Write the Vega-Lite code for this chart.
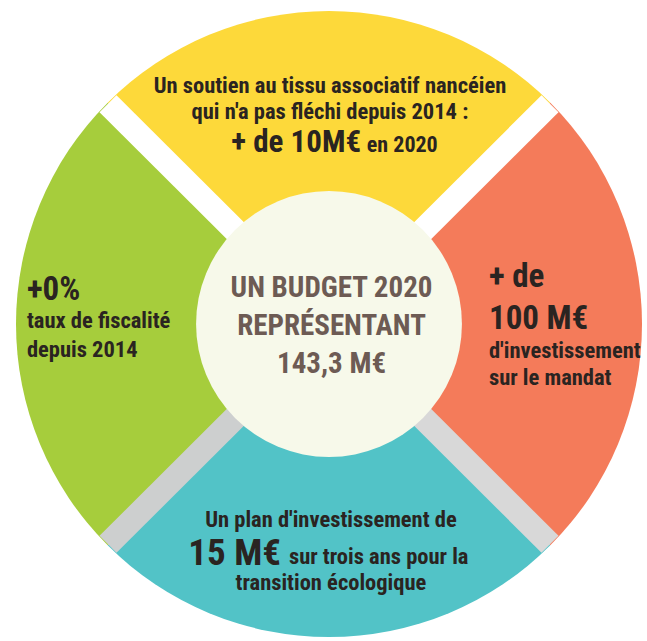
{
  "$schema": "https://vega.github.io/schema/vega-lite/v6.json",
  "width": 636,
  "height": 634,
  "padding": {"left": 11, "top": 7, "right": 0, "bottom": 0},
  "autosize": {"type": "none"},
  "background": "white",
  "config": {"view": {"stroke": null}, "text": {"font": "Roboto Condensed, Roboto, sans-serif", "fontWeight": "bold", "baseline": "alphabetic", "color": "#2A2421"}},
  "datasets": {
    "sectors": [
      {"sector": "Vie associative", "share": 1, "k": 1},
      {"sector": "Investissement", "share": 1, "k": 2},
      {"sector": "Transition écologique", "share": 1, "k": 3},
      {"sector": "Fiscalité", "share": 1, "k": 4}
    ],
    "bands": [
      {"side": "haut gauche", "ox": 0, "oy": 0, "ex": -69.5, "ey": 69.5},
      {"side": "haut droite", "ox": 0, "oy": 0, "ex": 69.5, "ey": 69.5},
      {"side": "bas droite", "ox": 0, "oy": 0, "ex": 69.5, "ey": -69.5},
      {"side": "bas gauche", "ox": 0, "oy": 0, "ex": -69.5, "ey": -69.5}
    ],
    "hub": [{"zone": "centre", "cx": 0, "cy": 0}],
    "labels": [
      {"text": "Un soutien au tissu associatif nancéien", "x": 0.3, "y": 72.9, "role": "texte", "anchor": "centre"},
      {"text": "qui n'a pas fléchi depuis 2014 :", "x": 0.3, "y": 64.6, "role": "texte", "anchor": "centre"},
      {"text": "+ de 10M€", "x": 10.1, "y": 54.3, "role": "chiffre moyen", "anchor": "droite"},
      {"text": "en 2020", "x": 11.9, "y": 54.3, "role": "petit", "anchor": "gauche"},
      {"text": "+0%", "x": -95.0, "y": 7.6, "role": "chiffre", "anchor": "gauche"},
      {"text": "taux de fiscalité", "x": -95.0, "y": -1.3, "role": "texte", "anchor": "gauche"},
      {"text": "depuis 2014", "x": -95.0, "y": -10.4, "role": "texte", "anchor": "gauche"},
      {"text": "+ de", "x": 50.3, "y": 11.7, "role": "chiffre", "anchor": "gauche"},
      {"text": "100 M€", "x": 50.3, "y": -1.6, "role": "chiffre", "anchor": "gauche"},
      {"text": "d'investissement", "x": 50.3, "y": -10.7, "role": "texte", "anchor": "gauche"},
      {"text": "sur le mandat", "x": 50.3, "y": -19.2, "role": "texte", "anchor": "gauche"},
      {"text": "UN BUDGET 2020", "x": 0.8, "y": 8.5, "role": "titre", "anchor": "centre"},
      {"text": "REPRÉSENTANT", "x": 0.8, "y": -3.5, "role": "titre", "anchor": "centre"},
      {"text": "143,3 M€", "x": 0.8, "y": -15.5, "role": "titre", "anchor": "centre"},
      {"text": "Un plan d'investissement de", "x": 0.6, "y": -64.0, "role": "texte", "anchor": "centre"},
      {"text": "15 M€", "x": -15.1, "y": -76.0, "role": "chiffre grand", "anchor": "droite"},
      {"text": "sur trois ans pour la", "x": -12.6, "y": -75.7, "role": "texte", "anchor": "gauche"},
      {"text": "transition écologique", "x": 0.6, "y": -83.9, "role": "texte", "anchor": "centre"}
    ]
  },
  "resolve": {"scale": {"color": "independent"}},
  "layer": [
    {
      "data": {"name": "hub"},
      "mark": {"type": "point", "filled": true, "opacity": 1, "size": 314000, "color": "#ebebeb", "strokeWidth": 0},
      "encoding": {
        "x": {"field": "cx", "type": "quantitative", "scale": {"domain": [-100, 100], "nice": false, "zero": false}, "axis": null},
        "y": {"field": "cy", "type": "quantitative", "scale": {"domain": [-100, 100], "nice": false, "zero": false}, "axis": null}
      }
    },
    {
      "data": {"name": "sectors"},
      "mark": {"type": "arc", "radius": 313},
      "encoding": {
        "theta": {"field": "share", "type": "quantitative", "stack": true, "scale": {"range": [-0.7854, 5.4978]}},
        "order": {"field": "k", "type": "quantitative"},
        "color": {"field": "sector", "type": "nominal", "legend": null,
          "scale": {"domain": ["Vie associative", "Investissement", "Transition écologique", "Fiscalité"],
                    "range": ["#FDD93A", "#F47B5A", "#52C3C7", "#A6CD3C"]}}
      }
    },
    {
      "data": {"name": "bands"},
      "mark": {"type": "rule", "strokeWidth": 24, "strokeCap": "butt"},
      "encoding": {
        "x": {"field": "ox", "type": "quantitative", "axis": null},
        "y": {"field": "oy", "type": "quantitative", "axis": null},
        "x2": {"field": "ex"},
        "y2": {"field": "ey"},
        "color": {"field": "side", "type": "nominal", "legend": null,
          "scale": {"domain": ["haut gauche", "haut droite", "bas droite", "bas gauche"],
                    "range": ["#FFFFFF", "#FFFFFF", "#D8D8D8", "#CDCFCF"]}}
      }
    },
    {
      "data": {"name": "hub"},
      "mark": {"type": "point", "filled": true, "opacity": 1, "size": 70686, "color": "#F7F9EA", "strokeWidth": 0},
      "encoding": {
        "x": {"field": "cx", "type": "quantitative", "axis": null},
        "y": {"field": "cy", "type": "quantitative", "axis": null}
      }
    },
    {
      "data": {"name": "labels"},
      "transform": [{"filter": "datum.anchor === 'centre' && datum.role === 'texte'"}],
      "mark": {"type": "text", "align": "center", "fontSize": 22.5},
      "encoding": {
        "x": {"field": "x", "type": "quantitative", "axis": null},
        "y": {"field": "y", "type": "quantitative", "axis": null},
        "text": {"field": "text"}
      }
    },
    {
      "data": {"name": "labels"},
      "transform": [{"filter": "datum.anchor === 'centre' && datum.role === 'titre'"}],
      "mark": {"type": "text", "align": "center", "fontSize": 29, "color": "#6D5B54"},
      "encoding": {
        "x": {"field": "x", "type": "quantitative", "axis": null},
        "y": {"field": "y", "type": "quantitative", "axis": null},
        "text": {"field": "text"}
      }
    },
    {
      "data": {"name": "labels"},
      "transform": [{"filter": "datum.anchor === 'gauche' && datum.role === 'texte'"}],
      "mark": {"type": "text", "align": "left", "fontSize": 22.5},
      "encoding": {
        "x": {"field": "x", "type": "quantitative", "axis": null},
        "y": {"field": "y", "type": "quantitative", "axis": null},
        "text": {"field": "text"}
      }
    },
    {
      "data": {"name": "labels"},
      "transform": [{"filter": "datum.anchor === 'gauche' && datum.role === 'petit'"}],
      "mark": {"type": "text", "align": "left", "fontSize": 22},
      "encoding": {
        "x": {"field": "x", "type": "quantitative", "axis": null},
        "y": {"field": "y", "type": "quantitative", "axis": null},
        "text": {"field": "text"}
      }
    },
    {
      "data": {"name": "labels"},
      "transform": [{"filter": "datum.anchor === 'gauche' && datum.role === 'chiffre'"}],
      "mark": {"type": "text", "align": "left", "fontSize": 33},
      "encoding": {
        "x": {"field": "x", "type": "quantitative", "axis": null},
        "y": {"field": "y", "type": "quantitative", "axis": null},
        "text": {"field": "text"}
      }
    },
    {
      "data": {"name": "labels"},
      "transform": [{"filter": "datum.anchor === 'droite' && datum.role === 'chiffre moyen'"}],
      "mark": {"type": "text", "align": "right", "fontSize": 31},
      "encoding": {
        "x": {"field": "x", "type": "quantitative", "axis": null},
        "y": {"field": "y", "type": "quantitative", "axis": null},
        "text": {"field": "text"}
      }
    },
    {
      "data": {"name": "labels"},
      "transform": [{"filter": "datum.anchor === 'droite' && datum.role === 'chiffre grand'"}],
      "mark": {"type": "text", "align": "right", "fontSize": 37},
      "encoding": {
        "x": {"field": "x", "type": "quantitative", "axis": null},
        "y": {"field": "y", "type": "quantitative", "axis": null},
        "text": {"field": "text"}
      }
    }
  ]
}
